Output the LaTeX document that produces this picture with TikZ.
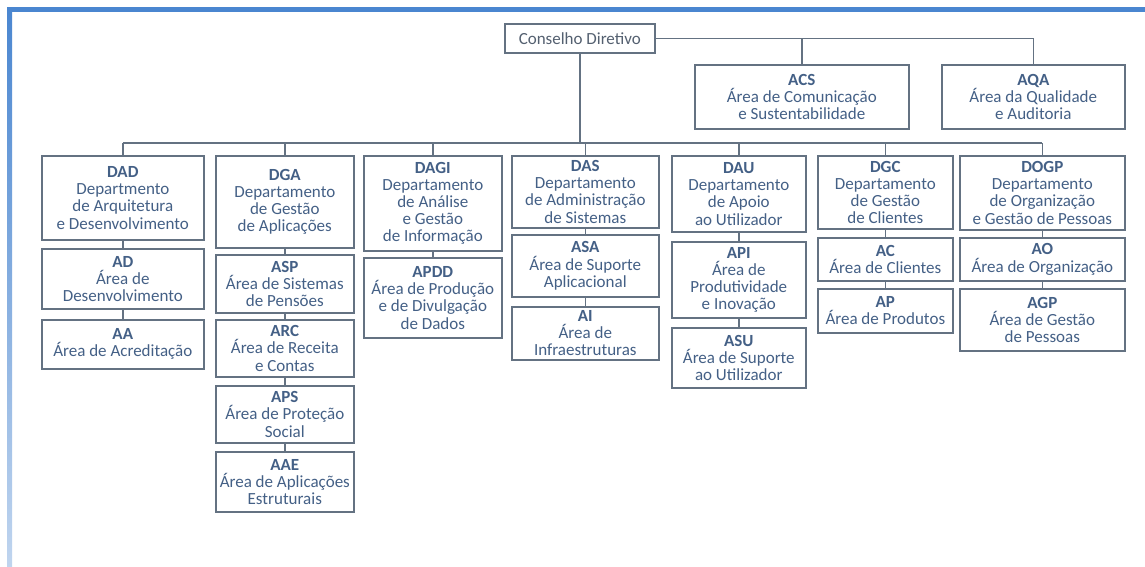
\documentclass[tikz,border=0pt]{standalone}
\usepackage{fontspec}
\setmainfont{Carlito}
\usetikzlibrary{positioning}

\definecolor{framec}{RGB}{74,134,208}
\definecolor{linec}{RGB}{100,114,130}
\definecolor{txtc}{RGB}{68,96,134}
\definecolor{cdtxt}{RGB}{84,96,112}

\begin{document}
\begin{tikzpicture}[
    x=1pt, y=-1pt,
    box/.style={rectangle, draw=linec, line width=1.6pt, fill=white, anchor=north west,
                align=center, inner sep=1pt, text=txtc, font=\fontsize{17}{17.2}\selectfont},
    sz/.style 2 args={minimum width=#1pt, minimum height=#2pt},
    conn/.style={draw=linec, line width=1.6pt},
]
    \useasboundingbox (0,0) rectangle (1145,566);
    % frame
    \fill[framec] (7,7) rectangle (1145,12);
    \shade[top color=framec, bottom color=framec!35] (7,7) rectangle (12,566);

    % top level
    \node[box, sz={150}{29}, text=cdtxt] (cd)   at (504,23)  {Conselho Diretivo};
    \node[box, sz={214}{64}] (acs)  at (694,64)  {\textbf{ACS}\\Área de Comunicação\\e Sustentabilidade};
    \node[box, sz={183}{64}] (aqa)  at (941,64)  {\textbf{AQA}\\Área da Qualidade\\e Auditoria};

    % departments
    \node[box, sz={162}{84}] (dad)  at (41,155)  {\textbf{DAD}\\Departmento\\de Arquitetura\\e Desenvolvimento};
    \node[box, sz={138}{92}] (dga)  at (215,155) {\textbf{DGA}\\Departamento\\de Gestão\\de Aplicações};
    \node[box, sz={138}{95}] (dagi) at (363,155) {\textbf{DAGI}\\Departamento\\de Análise\\e Gestão\\de Informação};
    \node[box, sz={147}{72}] (das)  at (511,155) {\textbf{DAS}\\Departamento\\de Administração\\de Sistemas};
    \node[box, sz={134}{76}] (dau)  at (671,155) {\textbf{DAU}\\Departamento\\de Apoio\\ao Utilizador};
    \node[box, sz={135}{73}] (dgc)  at (817,155) {\textbf{DGC}\\Departamento\\de Gestão\\de Clientes};
    \node[box, sz={165}{74}] (dogp) at (959,155) {\textbf{DOGP}\\Departamento\\de Organização\\e Gestão de Pessoas};

    % areas
    \node[box, sz={162}{60}] (ad)   at (41,248)  {\textbf{AD}\\Área de\\Desenvolvimento};
    \node[box, sz={162}{49}] (aa)   at (41,319)  {\textbf{AA}\\Área de Acreditação};
    \node[box, sz={138}{58}] (asp)  at (215,254) {\textbf{ASP}\\Área de Sistemas\\de Pensões};
    \node[box, sz={138}{57}] (arc)  at (215,319) {\textbf{ARC}\\Área de Receita\\e Contas};
    \node[box, sz={138}{57}] (aps)  at (215,385) {\textbf{APS}\\Área de Proteção\\Social};
    \node[box, sz={138}{60}] (aae)  at (215,451) {\textbf{AAE}\\Área de Aplicações\\Estruturais};
    \node[box, sz={138}{80}] (apdd) at (363,257) {\textbf{APDD}\\Área de Produção\\e de Divulgação\\de Dados};
    \node[box, sz={147}{62}] (asa)  at (511,234) {\textbf{ASA}\\Área de Suporte\\Aplicacional};
    \node[box, sz={147}{53}] (ai)   at (511,306) {\textbf{AI}\\Área de\\Infraestruturas};
    \node[box, sz={134}{76}] (api)  at (671,241) {\textbf{API}\\Área de\\Produtividade\\e Inovação};
    \node[box, sz={134}{60}] (asu)  at (671,327) {\textbf{ASU}\\Área de Suporte\\ao Utilizador};
    \node[box, sz={135}{43}] (ac)   at (817,237) {\textbf{AC}\\Área de Clientes};
    \node[box, sz={135}{44}] (ap)   at (817,288) {\textbf{AP}\\Área de Produtos};
    \node[box, sz={165}{43}] (ao)   at (959,237) {\textbf{AO}\\Área de Organização};
    \node[box, sz={165}{62}] (agp)  at (959,288) {\textbf{AGP}\\Área de Gestão\\de Pessoas};

    % connectors
    \coordinate (bus) at (0,143);
    \draw[conn] (cd.south) -- (cd.south |- bus);
    \draw[conn] (dad.north |- bus) -- (dogp.north |- bus);
    \foreach \d in {dad,dga,dagi,das,dau,dgc,dogp}
        \draw[conn] (\d.north) -- (\d.north |- bus);
    \draw[conn] (cd.east) -- (aqa.north |- cd.east) -- (aqa.north);
    \draw[conn] (acs.north |- cd.east) -- (acs.north);
    \foreach \a/\b in {dad/ad, ad/aa, dga/asp, asp/arc, arc/aps, aps/aae, dagi/apdd,
                       das/asa, asa/ai, dau/api, api/asu, dgc/ac, ac/ap, dogp/ao, ao/agp}
        \draw[conn] (\a) -- (\b);
\end{tikzpicture}
\end{document}
